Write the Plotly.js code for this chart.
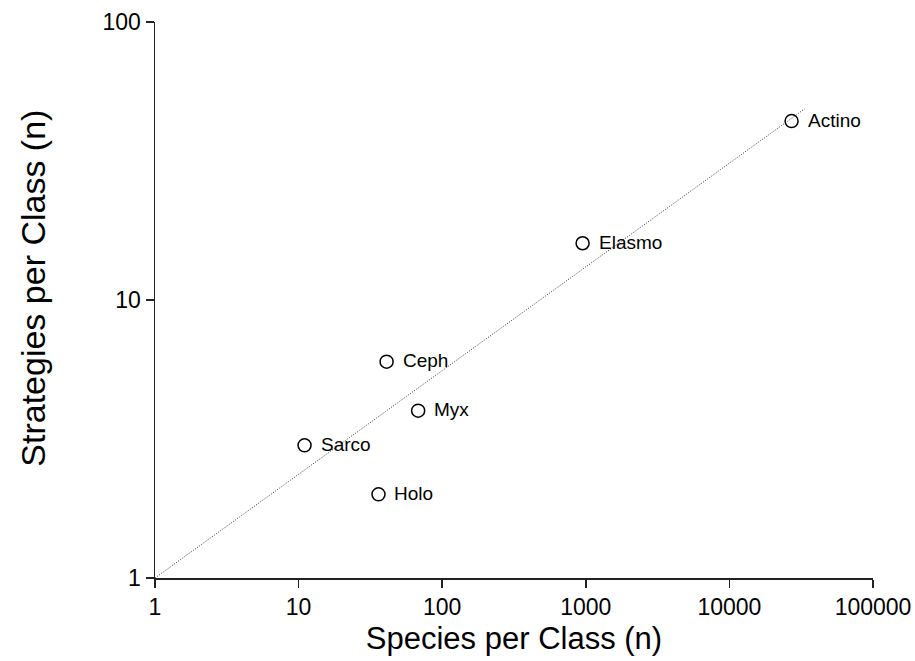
<!DOCTYPE html>
<html>
<head>
<meta charset="utf-8">
<script src="https://cdn.plot.ly/plotly-3.0.1.min.js"></script>
<style>
  html, body { margin: 0; padding: 0; background: #fff; }
  #chart { width: 915px; height: 661px; }
</style>
</head>
<body>
<div id="chart"></div>
<script>
// Fish classes: species count vs. number of reproductive strategies
const classNames = ["Actino", "Elasmo", "Ceph", "Myx", "Sarco", "Holo"];
const speciesPerClass = [27100, 950, 41, 68, 11, 36];
const strategiesPerClass = [44, 16, 6, 4, 3, 2];

// Fitted power-law line endpoints
const fitX = [1, 33400];
const fitY = [1, 48.7];

// Axis ticks
const xTickVals = [1, 10, 100, 1000, 10000, 100000];
const xTickText = ["1", "10", "100", "1000", "10000", "100000"];
const yTickVals = [1, 10, 100];
const yTickText = ["1", "10", "100"];

const FONT = "'Liberation Sans', Arial, sans-serif";
const AXIS_COLOR = "#222";

const traces = [
  {
    x: fitX, y: fitY,
    mode: "lines",
    line: { color: "#333", width: 1, dash: "1px,1.6px" },
    hoverinfo: "skip",
    showlegend: false
  },
  {
    x: speciesPerClass, y: strategiesPerClass,
    mode: "markers",
    marker: { symbol: "circle-open", size: 13, color: "#000", line: { width: 1.5, color: "#000" } },
    showlegend: false
  }
];

const annotations = classNames.map((name, i) => ({
  x: Math.log10(speciesPerClass[i]),
  y: Math.log10(strategiesPerClass[i]),
  xref: "x", yref: "y",
  text: name,
  showarrow: false,
  xanchor: "left",
  yanchor: "middle",
  xshift: 14,
  yshift: 1,
  font: { family: FONT, size: 19, color: "#000" }
}));

// Vertical axis title, placed as an annotation so it can sit slightly above centre
annotations.push({
  x: -0.17, y: 0.522,
  xref: "paper", yref: "paper",
  text: "Strategies per Class (n)",
  textangle: -90,
  showarrow: false,
  xanchor: "center",
  yanchor: "middle",
  font: { family: FONT, size: 34, color: "#000" }
});

const layout = {
  width: 915, height: 661,
  margin: { l: 155, r: 42, t: 22, b: 83 },
  paper_bgcolor: "#fff",
  plot_bgcolor: "#fff",
  showlegend: false,
  xaxis: {
    type: "log",
    range: [0, 5],
    tickmode: "array",
    tickvals: xTickVals,
    ticktext: xTickText,
    ticks: "outside",
    ticklen: 8,
    tickwidth: 1.5,
    tickcolor: AXIS_COLOR,
    showline: true,
    linecolor: AXIS_COLOR,
    linewidth: 1.5,
    showgrid: false,
    zeroline: false,
    automargin: false,
    tickfont: { family: FONT, size: 23, color: "#000" },
    title: { text: "Species per Class (n)", font: { family: FONT, size: 31, color: "#000" }, standoff: 8 }
  },
  yaxis: {
    type: "log",
    range: [0, 2],
    tickmode: "array",
    tickvals: yTickVals,
    ticktext: yTickText,
    ticks: "outside",
    ticklen: 8,
    tickwidth: 1.5,
    tickcolor: AXIS_COLOR,
    showline: true,
    linecolor: AXIS_COLOR,
    linewidth: 1.5,
    showgrid: false,
    zeroline: false,
    automargin: false,
    tickfont: { family: FONT, size: 23, color: "#000" }
  },
  annotations: annotations
};

Plotly.newPlot("chart", traces, layout, { displayModeBar: false, staticPlot: true });
</script>
</body>
</html>
